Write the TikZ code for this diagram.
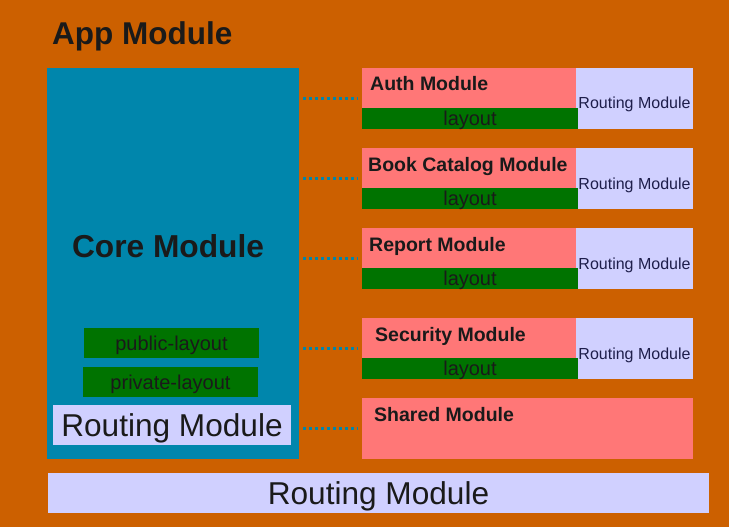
\documentclass[tikz,border=0pt]{standalone}
\usepackage{fontspec}
\setmainfont{Liberation Sans}
\definecolor{bgor}{RGB}{204,96,0}
\definecolor{teal}{RGB}{0,134,172}
\definecolor{pinkm}{RGB}{255,119,119}
\definecolor{greenl}{RGB}{0,115,0}
\definecolor{lav}{RGB}{208,208,255}
\definecolor{txt}{RGB}{26,26,26}
\definecolor{navy}{RGB}{30,30,75}
\begin{document}
\begin{tikzpicture}[x=1pt,y=-1pt,
  box/.style={draw=none,inner sep=0pt,outer sep=0pt,rectangle,text depth=0pt},
  modbox/.style={box,fill=pinkm},
  laybox/.style={box,fill=greenl,text=txt,text height=14.3pt,font=\fontsize{20}{20}\selectfont},
  bigrt/.style={box,fill=lav,text=txt,text height=22.6pt,font=\fontsize{31.6}{31.6}\selectfont},
  modlabel/.style={anchor=base west,inner sep=0pt,text=txt,font=\fontsize{19.5}{19.5}\selectfont\bfseries},
  conn/.style={teal,line width=2.5pt,dash pattern=on 2.5pt off 3.5pt,shorten <=4pt,shorten >=4pt}]
\fill[bgor] (0,0) rectangle (729,527);
\useasboundingbox (0,0) rectangle (729,527);
\node[anchor=base west,inner sep=0pt,text=txt,font=\fontsize{31.5}{31.5}\selectfont\bfseries] (app) at (52,45) {App Module};
% core
\node[box,fill=teal,minimum width=252pt,minimum height=391pt] (core) at (173,263.5) {};
\node[anchor=base,inner sep=0pt,text=txt,font=\fontsize{31.7}{31.7}\selectfont\bfseries] (coret) at (168,257) {Core Module};
\node[laybox,minimum width=175pt,minimum height=30pt] (pub) at (171.5,343) {public-layout};
\node[laybox,minimum width=175pt,minimum height=30pt] (priv) at (170.5,382) {private-layout};
\node[bigrt,minimum width=238pt,minimum height=40pt] (corert) at (172,425) {Routing Module};
% bottom routing
\node[bigrt,minimum width=661pt,minimum height=40pt] (botrt) at (378.5,493) {Routing Module};
% rows
\foreach \nm/\lab/\y/\lx in {auth/Auth Module/68/370,book/Book Catalog Module/148/368,rep/Report Module/228/369,sec/Security Module/318/375}{
  \node[modbox,minimum width=214pt,minimum height=40pt] (\nm) at (469,\y+20) {};
  \node[box,fill=lav,minimum width=117pt,minimum height=61pt] (\nm rt) at (634.5,\y+30.5) {};
  \node[anchor=base,inner sep=0pt,text=navy,font=\fontsize{16}{16}\selectfont] (\nm rtt) at (634.5,\y+41) {Routing Module};
  \node[laybox,minimum width=216pt,minimum height=21pt] (\nm lay) at (470,\y+50.5) {layout};
  \node[modlabel] (\nm t) at (\lx,\y+23) {\lab};
  \draw[conn] (core.east |- \nm rt.west) -- (\nm.west |- \nm rt.west);
}
\node[modbox,minimum width=331pt,minimum height=61pt] (shared) at (527.5,428.5) {};
\node[modlabel] (sharedt) at (374,421) {Shared Module};
\draw[conn] (core.east |- shared.west) -- (shared.west);
\end{tikzpicture}
\end{document}
